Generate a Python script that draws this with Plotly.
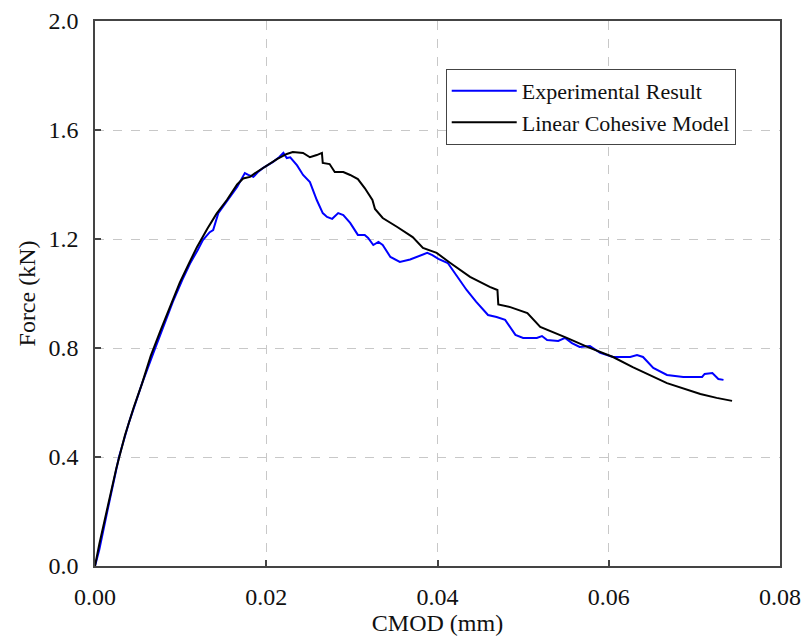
import plotly.graph_objects as go

# Experimental CMOD (mm) vs force (kN)
cmod_exp = [0.0, 0.0005, 0.0015, 0.0028, 0.0040, 0.0055, 0.0068, 0.0080, 0.0091,
            0.0102, 0.0111, 0.0120, 0.0126, 0.0134, 0.0138, 0.0144, 0.0151, 0.0158,
            0.0166, 0.0175, 0.0179, 0.0185, 0.0190, 0.0196, 0.0208, 0.0215, 0.0220,
            0.0224, 0.0228, 0.0236, 0.0243, 0.0251, 0.0259, 0.0266, 0.0271, 0.0277,
            0.0284, 0.0290, 0.0298, 0.0307, 0.0315, 0.0319, 0.0325, 0.0331, 0.0336,
            0.0345, 0.0356, 0.0368, 0.0380, 0.0388, 0.0394, 0.0401, 0.0412, 0.0423,
            0.0434, 0.0445, 0.0459, 0.0469, 0.0479, 0.0491, 0.0500, 0.0516, 0.0522,
            0.0528, 0.0541, 0.0549, 0.0557, 0.0566, 0.0578, 0.0590, 0.0605, 0.0625,
            0.0633, 0.0640, 0.0652, 0.0668, 0.0687, 0.0709, 0.0712, 0.0721, 0.0728,
            0.0734]
force_exp = [0.0, 0.06, 0.21, 0.40, 0.53, 0.67, 0.78, 0.88, 0.97,
             1.05, 1.11, 1.16, 1.196, 1.225, 1.233, 1.295, 1.325, 1.354,
             1.391, 1.442, 1.435, 1.428, 1.445, 1.460, 1.483, 1.500, 1.516,
             1.497, 1.500, 1.470, 1.435, 1.409, 1.343, 1.295, 1.281, 1.274,
             1.295, 1.288, 1.259, 1.215, 1.215, 1.204, 1.178, 1.189, 1.178,
             1.134, 1.116, 1.125, 1.140, 1.149, 1.141, 1.127, 1.112, 1.061,
             1.013, 0.970, 0.921, 0.914, 0.903, 0.848, 0.837, 0.837, 0.844,
             0.829, 0.826, 0.837, 0.818, 0.804, 0.807, 0.782, 0.767, 0.767,
             0.774, 0.767, 0.727, 0.701, 0.694, 0.694, 0.705, 0.708, 0.686,
             0.683]

# Linear cohesive model CMOD (mm) vs force (kN)
cmod_model = [0.0, 0.0005, 0.0015, 0.0025, 0.0035, 0.0045, 0.0055, 0.0065, 0.0076,
              0.0088, 0.0099, 0.0110, 0.0119, 0.0131, 0.0142, 0.0154, 0.0166, 0.0173,
              0.0181, 0.0189, 0.0201, 0.0213, 0.0224, 0.0231, 0.0243, 0.0251, 0.0259,
              0.0265, 0.0266, 0.0274, 0.0280, 0.0290, 0.0298, 0.0307, 0.0315, 0.0324,
              0.0327, 0.0336, 0.0353, 0.0371, 0.0383, 0.0399, 0.0415, 0.0438, 0.0461,
              0.0470, 0.0471, 0.0485, 0.0505, 0.0520, 0.0551, 0.0575, 0.0605, 0.0628,
              0.0668, 0.0707, 0.0726, 0.0744]
force_model = [0.0, 0.08, 0.22, 0.36, 0.48, 0.58, 0.67, 0.77, 0.86,
               0.955, 1.040, 1.112, 1.170, 1.237, 1.293, 1.343, 1.400, 1.422,
               1.428, 1.446, 1.471, 1.494, 1.512, 1.519, 1.516, 1.500, 1.508,
               1.516, 1.479, 1.475, 1.446, 1.446, 1.435, 1.420, 1.387, 1.343,
               1.310, 1.277, 1.244, 1.207, 1.167, 1.149, 1.112, 1.061, 1.024,
               1.013, 0.960, 0.950, 0.928, 0.877, 0.837, 0.804, 0.767, 0.730,
               0.671, 0.631, 0.617, 0.606]

x_ticks = [0.00, 0.02, 0.04, 0.06, 0.08]
y_ticks = [0.0, 0.4, 0.8, 1.2, 1.6, 2.0]

FONT = "Liberation Serif, Times New Roman, serif"

fig = go.Figure()
fig.add_trace(go.Scatter(x=cmod_exp, y=force_exp, mode="lines",
                         name="Experimental Result", legendgroup="a",
                         line=dict(color="#0000ff", width=2)))
fig.add_trace(go.Scatter(x=cmod_model, y=force_model, mode="lines",
                         name="Linear Cohesive Model", legendgroup="b",
                         line=dict(color="#000000", width=2)))

axis_common = dict(
    showline=True, linecolor="#444444", linewidth=1.5, mirror=True,
    ticks="inside", ticklen=6, tickwidth=1.5, tickcolor="#444444",
    showgrid=True, gridcolor="#c8c8c8", gridwidth=1, griddash="dash",
    zeroline=False, automargin=False,
    tickfont=dict(family=FONT, size=24, color="#111111"),
    title_font=dict(family=FONT, size=24, color="#111111"),
)

fig.update_xaxes(range=[0, 0.08], tickvals=x_ticks,
                 ticktext=[f"{v:.2f}" for v in x_ticks],
                 ticklabelstandoff=8,
                 title_text="CMOD (mm)", title_standoff=2, **axis_common)
fig.update_yaxes(range=[0, 2.0], tickvals=y_ticks,
                 ticktext=[f"{v:.1f}" for v in y_ticks],
                 ticklabelstandoff=10,
                 title_text="Force (kN)", title_standoff=6, **axis_common)

fig.update_layout(
    width=808, height=641,
    margin=dict(l=95, r=28, t=21, b=75),
    plot_bgcolor="white", paper_bgcolor="white",
    legend=dict(x=0.512, y=0.912, xanchor="left", yanchor="top",
                bgcolor="white", bordercolor="#444444", borderwidth=1,
                font=dict(family=FONT, size=22, color="#111111"),
                itemwidth=65, tracegroupgap=0, traceorder="grouped"),
)

fig.write_html("out.html")
